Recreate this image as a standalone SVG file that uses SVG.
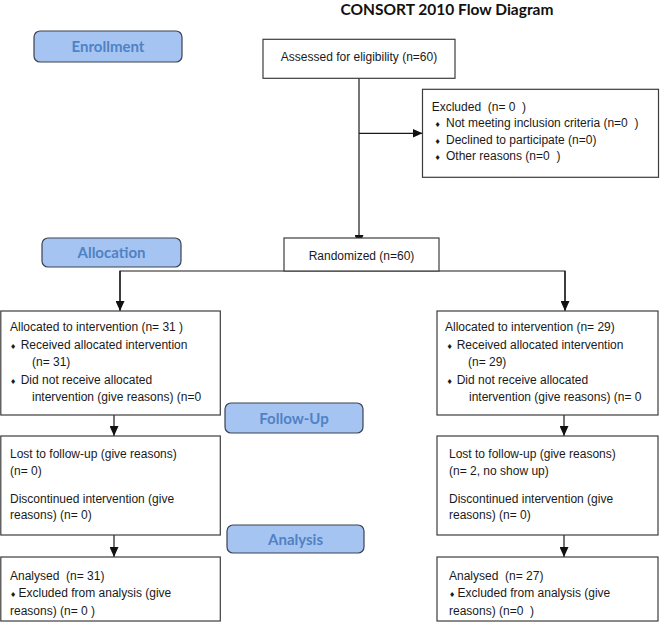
<svg xmlns="http://www.w3.org/2000/svg" width="660" height="622" viewBox="0 0 660 622">
<style>
.box{fill:#fff;stroke:#3c3c3c;stroke-width:1.2}
.phase{fill:#a6c4f2;stroke:#3a4250;stroke-width:1.2}
.pt{font-family:Lato,"Open Sans",sans-serif;font-weight:bold;font-size:15px;fill:#4f82c4;text-anchor:middle}
.title{font-family:Lato,"Open Sans",sans-serif;font-weight:bold;font-size:15.5px;fill:#111;text-anchor:middle}
.t{font-family:"Liberation Sans",Arial,sans-serif;font-size:12px;fill:#1a1a1a;white-space:pre}
.c{text-anchor:middle}
.b{font-family:"DejaVu Sans",sans-serif;font-size:7px;fill:#1a1a1a}
.ln{fill:none;stroke:#1a1a1a;stroke-width:1.2}
</style>
<defs>
<marker id="ah" markerUnits="userSpaceOnUse" markerWidth="10" markerHeight="9" refX="10" refY="4.5" orient="auto">
<path d="M0,0 L10,4.5 L0,9 z" fill="#111"/>
</marker>
</defs>
<rect width="660" height="622" fill="#fff"/>
<text class="title" x="447" y="15">CONSORT 2010 Flow Diagram</text>

<g id="connectors">
<line class="ln" x1="359" y1="78" x2="359" y2="245" marker-end="url(#ah)"/>
<line class="ln" x1="359" y1="133.3" x2="422.5" y2="133.3" marker-end="url(#ah)"/>
<polyline class="ln" points="120,310.5 120,271 565,271 565,310.5"/>
<line class="ln" x1="120" y1="271" x2="120" y2="311" marker-end="url(#ah)"/>
<line class="ln" x1="565" y1="271" x2="565" y2="311" marker-end="url(#ah)"/>
<line class="ln" x1="114" y1="415" x2="114" y2="436" marker-end="url(#ah)"/>
<line class="ln" x1="564" y1="415" x2="564" y2="436" marker-end="url(#ah)"/>
<line class="ln" x1="114" y1="535" x2="114" y2="557" marker-end="url(#ah)"/>
<line class="ln" x1="564" y1="535" x2="564" y2="557" marker-end="url(#ah)"/>
</g>

<g id="enrollment">
<rect class="phase" x="34" y="31" width="148" height="31" rx="6"/>
<text class="pt" x="108" y="52">Enrollment</text>
</g>
<g id="allocation">
<rect class="phase" x="42" y="238" width="139" height="29" rx="6"/>
<text class="pt" x="111.5" y="258">Allocation</text>
</g>
<g id="followup">
<rect class="phase" x="225" y="403" width="138" height="30" rx="6"/>
<text class="pt" x="294" y="423.5">Follow-Up</text>
</g>
<g id="analysis">
<rect class="phase" x="227" y="525" width="137" height="28" rx="6"/>
<text class="pt" x="295.5" y="544.5">Analysis</text>
</g>

<g id="assessed">
<rect class="box" x="263" y="39.3" width="192" height="39"/>
<text class="t c" x="359" y="60.5">Assessed for eligibility (n=60)</text>
</g>

<g id="excluded">
<rect class="box" x="422.5" y="89.3" width="236" height="88"/>
<text class="t" x="431.7" y="110.5">Excluded  (n= 0  )</text>
<text class="b" x="434.5" y="127">♦</text>
<text class="t" x="446" y="127">Not meeting inclusion criteria (n=0  )</text>
<text class="b" x="434.5" y="143.5">♦</text>
<text class="t" x="446" y="143.5">Declined to participate (n=0)</text>
<text class="b" x="434.5" y="159.5">♦</text>
<text class="t" x="446" y="159.5">Other reasons (n=0  )</text>
</g>

<g id="randomized">
<rect class="box" x="284" y="238" width="155" height="33"/>
<text class="t c" x="361.5" y="259.5">Randomized (n=60)</text>
</g>

<g id="alloc-left">
<rect class="box" x="0.8" y="311" width="219.5" height="104"/>
<text class="t" x="10" y="331">Allocated to intervention (n= 31 )</text>
<text class="b" x="10" y="348.5">♦</text>
<text class="t" x="20.7" y="348.5">Received allocated intervention</text>
<text class="t" x="32" y="366">(n= 31)</text>
<text class="b" x="10" y="383.5">♦</text>
<text class="t" x="20.7" y="383.5">Did not receive allocated</text>
<text class="t" x="32" y="401">intervention (give reasons) (n=0</text>
</g>

<g id="alloc-right">
<rect class="box" x="437" y="311" width="221" height="104"/>
<text class="t" x="445" y="331">Allocated to intervention (n= 29)</text>
<text class="b" x="446.5" y="348.5">♦</text>
<text class="t" x="456.7" y="348.5">Received allocated intervention</text>
<text class="t" x="468" y="366">(n= 29)</text>
<text class="b" x="446.5" y="383.5">♦</text>
<text class="t" x="456.7" y="383.5">Did not receive allocated</text>
<text class="t" x="469" y="401">intervention (give reasons) (n= 0</text>
</g>

<g id="lost-left">
<rect class="box" x="0.8" y="436" width="219.5" height="99"/>
<text class="t" x="10" y="457.5">Lost to follow-up (give reasons)</text>
<text class="t" x="10" y="475">(n= 0)</text>
<text class="t" x="10" y="502.5">Discontinued intervention (give</text>
<text class="t" x="10" y="518.5">reasons) (n= 0)</text>
</g>

<g id="lost-right">
<rect class="box" x="437" y="436" width="221" height="99"/>
<text class="t" x="449" y="457.5">Lost to follow-up (give reasons)</text>
<text class="t" x="449" y="475">(n= 2, no show up)</text>
<text class="t" x="449" y="502.5">Discontinued intervention (give</text>
<text class="t" x="449" y="518.5">reasons) (n= 0)</text>
</g>

<g id="analysed-left">
<rect class="box" x="0.8" y="557" width="219.5" height="64"/>
<text class="t" x="10" y="579.5">Analysed  (n= 31)</text>
<text class="b" x="10" y="597">♦</text>
<text class="t" x="18.5" y="597">Excluded from analysis (give</text>
<text class="t" x="10" y="614.5">reasons) (n= 0 )</text>
</g>

<g id="analysed-right">
<rect class="box" x="437" y="557" width="221" height="64"/>
<text class="t" x="449" y="579.5">Analysed  (n= 27)</text>
<text class="b" x="449" y="597">♦</text>
<text class="t" x="457.5" y="597">Excluded from analysis (give</text>
<text class="t" x="449" y="614.5">reasons) (n=0  )</text>
</g>
</svg>
